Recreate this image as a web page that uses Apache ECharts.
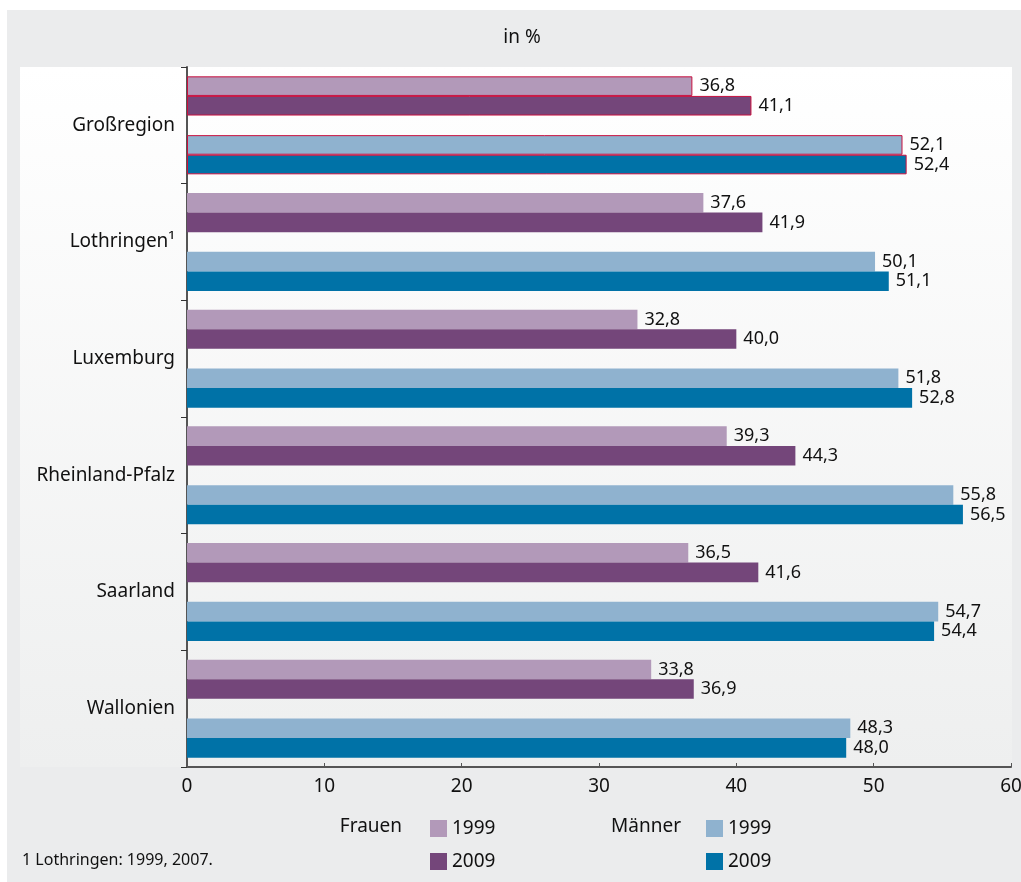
<!DOCTYPE html>
<html>
<head>
<meta charset="utf-8">
<script src="https://cdn.jsdelivr.net/npm/echarts@6/dist/echarts.min.js"></script>
<style>
html,body{margin:0;padding:0;background:#ffffff;}
#chart{width:1021px;height:882px;}
</style>
</head>
<body>
<div id="chart"></div>
<script>
const categories = ['Großregion', 'Lothringen¹', 'Luxemburg', 'Rheinland-Pfalz', 'Saarland', 'Wallonien'];
const frauen1999 = [36.8, 37.6, 32.8, 39.3, 36.5, 33.8];
const frauen2009 = [41.1, 41.9, 40.0, 44.3, 41.6, 36.9];
const maenner1999 = [52.1, 50.1, 51.8, 55.8, 54.7, 48.3];
const maenner2009 = [52.4, 51.1, 52.8, 56.5, 54.4, 48.0];
const xTicks = [0, 10, 20, 30, 40, 50, 60];
const titleText = 'in %';
const footnote = '1 Lothringen: 1999, 2007.';

const FONT = '"Noto Sans", "Open Sans", sans-serif';
const TXT = '#111111';

function buildData(arr) {
  return arr.map((v, i) => i === 0
    ? { value: v, itemStyle: { borderColor: '#c8103e', borderWidth: 1 } }
    : v);
}
function barSeries(name, arr, color) {
  return {
    name: name,
    type: 'bar',
    data: buildData(arr),
    barGap: '0%',
    barCategoryGap: '16%',
    itemStyle: { color: color },
    label: {
      show: true,
      position: 'right',
      distance: 7,
      color: TXT,
      fontSize: 18,
      fontFamily: FONT,
      formatter: p => Number(p.value).toFixed(1).replace('.', ',')
    },
    emphasis: { disabled: true },
    animation: false
  };
}

const chart = echarts.init(document.getElementById('chart'), null, { renderer: 'canvas' });
const option = {
  backgroundColor: '#ffffff',
  animation: false,
  textStyle: { fontFamily: FONT },
  graphic: [
    { type: 'rect', z: -10, silent: true, shape: { x: 7, y: 10, width: 1014, height: 872 }, style: { fill: '#ebeced' } },
    { type: 'rect', z: -9, silent: true, shape: { x: 20, y: 67, width: 992, height: 700 },
      style: { fill: new echarts.graphic.LinearGradient(0, 0, 0, 1, [
        { offset: 0, color: '#ffffff' }, { offset: 1, color: '#eeefef' }]) } },
    { type: 'text', x: 522, y: 38, style: { text: titleText, fill: TXT, font: '19px ' + FONT, textAlign: 'center', textVerticalAlign: 'middle' } },
    { type: 'text', x: 402, y: 827, style: { text: 'Frauen', fill: TXT, font: '19px ' + FONT, textAlign: 'right', textVerticalAlign: 'middle' } },
    { type: 'text', x: 681, y: 827, style: { text: 'Männer', fill: TXT, font: '19px ' + FONT, textAlign: 'right', textVerticalAlign: 'middle' } },
    { type: 'text', x: 22, y: 860, style: { text: footnote, fill: TXT, font: '16px ' + FONT, textAlign: 'left', textVerticalAlign: 'middle' } }
  ],
  legend: [
    { left: 430, top: 819, padding: 0, orient: 'vertical', itemWidth: 17, itemHeight: 17, itemGap: 14,
      icon: 'rect', data: ['Frauen 1999', 'Frauen 2009'], selectedMode: false,
      formatter: n => n.split(' ')[1], textStyle: { fontSize: 19, color: TXT, fontFamily: FONT } },
    { left: 706, top: 819, padding: 0, orient: 'vertical', itemWidth: 17, itemHeight: 17, itemGap: 14,
      icon: 'rect', data: ['Männer 1999', 'Männer 2009'], selectedMode: false,
      formatter: n => n.split(' ')[1], textStyle: { fontSize: 19, color: TXT, fontFamily: FONT } }
  ],
  grid: { left: 187, right: 10, top: 67, bottom: 115, containLabel: false, outerBoundsMode: 'none' },
  xAxis: {
    type: 'value', min: xTicks[0], max: xTicks[xTicks.length - 1], interval: 10,
    axisLine: { show: true, lineStyle: { color: '#555555', width: 2 } },
    axisTick: { show: true, length: 4, inside: true, lineStyle: { color: '#555555' } },
    axisLabel: { color: TXT, fontSize: 19, fontFamily: FONT, margin: 10 },
    splitLine: { show: false }
  },
  yAxis: {
    type: 'category', inverse: true, data: categories,
    axisLine: { show: true, lineStyle: { color: '#555555', width: 2 } },
    axisTick: { show: true, length: 6, lineStyle: { color: '#333333' } },
    axisLabel: { color: TXT, fontSize: 19, fontFamily: FONT, margin: 12 }
  },
  series: [
    barSeries('Frauen 1999', frauen1999, '#b299b9'),
    barSeries('Frauen 2009', frauen2009, '#74467a'),
    { name: 'spacer', type: 'bar', data: categories.map(() => null), barGap: '0%', barCategoryGap: '16%', silent: true },
    barSeries('Männer 1999', maenner1999, '#8fb2cf'),
    barSeries('Männer 2009', maenner2009, '#0072a7')
  ]
};
chart.setOption(option);
</script>
</body>
</html>
